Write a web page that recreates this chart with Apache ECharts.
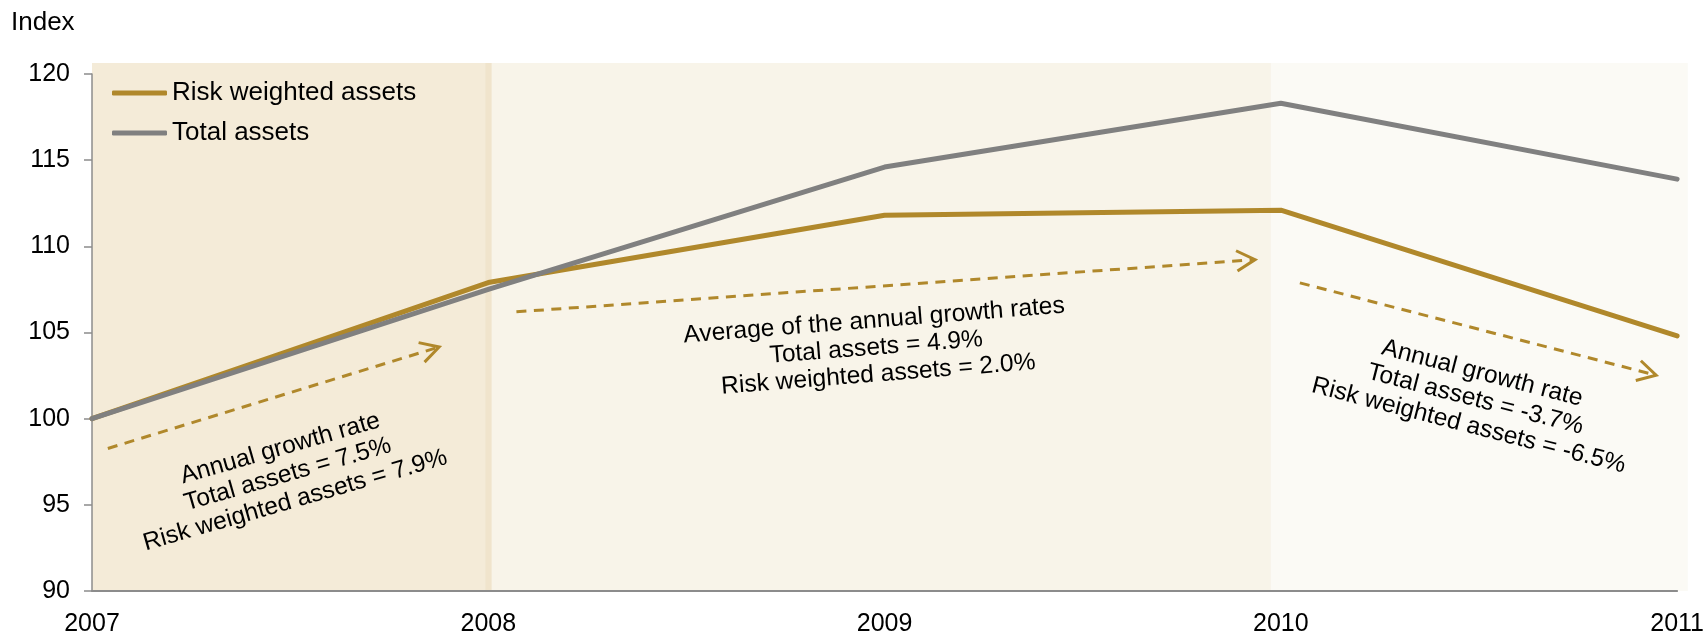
<!DOCTYPE html>
<html>
<head>
<meta charset="utf-8">
<title>Total assets and risk weighted assets, index</title>
<script src="https://cdn.jsdelivr.net/npm/echarts@6/dist/echarts.min.js"></script>
<style>
  html, body { margin: 0; padding: 0; background: #ffffff; }
  #chart { width: 1707px; height: 637px; }
</style>
</head>
<body>
<div id="chart"></div>
<script>
// Index, 2007 = 100
const years = [2007, 2008, 2009, 2010, 2011];
const riskWeightedAssets = [100, 107.9, 111.8, 112.1, 104.8];
const totalAssets = [100, 107.5, 114.6, 118.3, 113.9];
const seriesNames = ['Risk weighted assets', 'Total assets'];

// Y axis ticks
const yMin = 90;
const yMax = 120;
const yStep = 5;

// Shaded periods along the x axis (year units) and their fills
const periodStops = [2007, 2007.992, 2008.009, 2009.975, 2011.027];
const periodFills = ['#F4EBD8', '#F0E4CC', '#F8F4E9', '#FBFAF5'];
const periodTop = 120.64;

// Growth-rate arrows, start and end in data units
const arrowStarts = [[2007.040, 98.27], [2008.071, 106.20], [2010.048, 107.88]];
const arrowEnds = [[2007.876, 104.16], [2009.935, 109.23], [2010.947, 102.52]];

// Growth-rate notes: centre in data units, tilt in degrees
const noteTexts = [
  'Annual growth rate\nTotal assets = 7.5%\nRisk weighted assets = 7.9%',
  'Average of the annual growth rates\nTotal assets = 4.9%\nRisk weighted assets = 2.0%',
  'Annual growth rate\nTotal assets = -3.7%\nRisk weighted assets = -6.5%'
];
const noteCentres = [[2007.494, 96.76], [2008.979, 104.12], [2010.491, 101.11]];
const noteTilts = [16, 4.5, -14.5];

const GOLD = '#B0882B';
const GREY = '#808080';
const AXIS = '#8C8C8C';
const FONT = '"Liberation Sans", Arial, Helvetica, sans-serif';

const chart = echarts.init(document.getElementById('chart'), null, { renderer: 'canvas' });

function pairs(values) {
  return years.map((y, i) => [y, values[i]]);
}

chart.setOption({
  animation: false,
  backgroundColor: '#ffffff',
  grid: { left: 92, right: 28, top: 74, bottom: 45.5 },
  legend: {
    orient: 'vertical',
    left: 112,
    top: 80,
    padding: 0,
    itemWidth: 55,
    itemHeight: 5,
    itemGap: 14,
    icon: 'roundRect',
    data: seriesNames,
    textStyle: { fontSize: 26, color: '#000', fontFamily: FONT }
  },
  xAxis: {
    type: 'value',
    min: years[0],
    max: years[years.length - 1],
    interval: 1,
    axisLine: { show: true, lineStyle: { color: AXIS, width: 2 } },
    axisTick: { show: false },
    splitLine: { show: false },
    axisLabel: {
      margin: 21,
      fontSize: 25,
      color: '#000',
      fontFamily: FONT,
      formatter: v => String(v)
    }
  },
  yAxis: {
    type: 'value',
    min: yMin,
    max: yMax,
    interval: yStep,
    axisLine: { show: true, lineStyle: { color: AXIS, width: 1.5 } },
    axisTick: { show: true, inside: false, length: 8, lineStyle: { color: AXIS, width: 1.5 } },
    splitLine: { show: false },
    axisLabel: { margin: 22, fontSize: 25, color: '#000', fontFamily: FONT }
  },
  series: [
    {
      name: seriesNames[0],
      type: 'line',
      data: pairs(riskWeightedAssets),
      symbol: 'none',
      z: 3,
      itemStyle: { color: GOLD },
      lineStyle: { color: GOLD, width: 5, cap: 'round', join: 'round' }
    },
    {
      name: seriesNames[1],
      type: 'line',
      data: pairs(totalAssets),
      symbol: 'none',
      z: 4,
      itemStyle: { color: GREY },
      lineStyle: { color: GREY, width: 5, cap: 'round', join: 'round' }
    }
  ]
});

// Background periods, arrows and notes placed through the axes' own scales
function drawOverlay() {
  const toPx = p => chart.convertToPixel({ xAxisIndex: 0, yAxisIndex: 0 }, p);
  const elements = [];

  for (let i = 0; i < periodFills.length; i++) {
    const a = toPx([periodStops[i], periodTop]);
    const b = toPx([periodStops[i + 1], yMin]);
    elements.push({
      type: 'rect',
      z: -10,
      silent: true,
      shape: { x: a[0], y: a[1], width: b[0] - a[0], height: b[1] - a[1] },
      style: { fill: periodFills[i] }
    });
  }

  const armLen = 21;
  const armAngle = 29 * Math.PI / 180;
  for (let i = 0; i < arrowStarts.length; i++) {
    const p0 = toPx(arrowStarts[i]);
    const p1 = toPx(arrowEnds[i]);
    const ang = Math.atan2(p1[1] - p0[1], p1[0] - p0[0]);
    elements.push({
      type: 'polyline',
      z: 5,
      silent: true,
      shape: { points: [p0, p1] },
      style: { stroke: GOLD, lineWidth: 3, lineDash: [10, 7.5], fill: null }
    });
    const w1 = [p1[0] - armLen * Math.cos(ang - armAngle), p1[1] - armLen * Math.sin(ang - armAngle)];
    const w2 = [p1[0] - armLen * Math.cos(ang + armAngle), p1[1] - armLen * Math.sin(ang + armAngle)];
    elements.push({
      type: 'polyline',
      z: 5,
      silent: true,
      shape: { points: [w1, p1, w2] },
      style: { stroke: GOLD, lineWidth: 3, fill: null, lineJoin: 'miter' }
    });
  }

  for (let i = 0; i < noteTexts.length; i++) {
    const c = toPx(noteCentres[i]);
    elements.push({
      type: 'text',
      z: 6,
      silent: true,
      x: c[0],
      y: c[1],
      rotation: noteTilts[i] * Math.PI / 180,
      style: {
        text: noteTexts[i],
        fill: '#000',
        font: '24.6px ' + FONT,
        align: 'center',
        verticalAlign: 'middle',
        lineHeight: 27
      }
    });
  }

  elements.push({
    type: 'text',
    z: 6,
    silent: true,
    x: 11,
    y: 23,
    style: {
      text: 'Index',
      fill: '#000',
      font: '26px ' + FONT,
      align: 'left',
      verticalAlign: 'middle'
    }
  });

  chart.setOption({ graphic: { elements: elements } });
}

drawOverlay();
</script>
</body>
</html>
